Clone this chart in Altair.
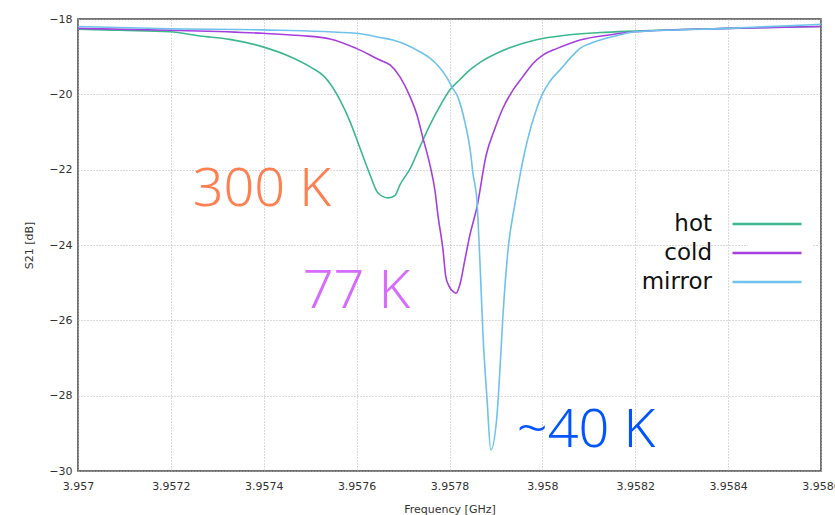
import altair as alt
import pandas as pd

# ---- data ----
hot_freq = [3.957000, 3.957090, 3.957198, 3.957263, 3.957327, 3.957398, 3.957457,
            3.957500, 3.957532, 3.957543, 3.957564, 3.957586, 3.957607, 3.957629,
            3.957646, 3.957668, 3.957683, 3.957693, 3.957715, 3.957736, 3.957758,
            3.957780, 3.957801, 3.957823, 3.957844, 3.957866, 3.957909, 3.957952,
            3.958001, 3.958059, 3.958124, 3.958199, 3.958296, 3.958400, 3.958501,
            3.958600]
hot_db = [-18.27, -18.30, -18.34, -18.45, -18.54, -18.74, -19.00,
          -19.27, -19.55, -19.72, -20.15, -20.73, -21.42, -22.14,
          -22.62, -22.75, -22.68, -22.41, -21.98, -21.40, -20.81,
          -20.30, -19.88, -19.60, -19.35, -19.15, -18.87, -18.67,
          -18.52, -18.42, -18.36, -18.32, -18.28, -18.25, -18.22,
          -18.20]

cold_freq = [3.957000, 3.957198, 3.957398, 3.957478, 3.957543, 3.957599, 3.957650,
             3.957672, 3.957693, 3.957715, 3.957730, 3.957743, 3.957758, 3.957769,
             3.957775, 3.957786, 3.957792, 3.957799, 3.957808, 3.957814, 3.957823,
             3.957833, 3.957844, 3.957859, 3.957879, 3.957898, 3.957915, 3.957937,
             3.957958, 3.957980, 3.958001, 3.958032, 3.958059, 3.958081, 3.958146,
             3.958199, 3.958400, 3.958600]
cold_db = [-18.25, -18.30, -18.38, -18.44, -18.53, -18.78, -19.09,
           -19.22, -19.53, -20.06, -20.55, -21.17, -21.88, -22.58,
           -23.20, -24.13, -24.84, -25.09, -25.24, -25.28, -25.02,
           -24.40, -23.73, -23.00, -21.61, -20.90, -20.37, -19.88,
           -19.53, -19.18, -18.96, -18.78, -18.65, -18.56, -18.42,
           -18.34, -18.25, -18.20]

mirror_freq = [3.957000, 3.957198, 3.957398, 3.957599, 3.957650, 3.957678, 3.957708,
               3.957736, 3.957758, 3.957780, 3.957795, 3.957805, 3.957819, 3.957833,
               3.957844, 3.957851, 3.957859, 3.957866, 3.957872, 3.957881, 3.957889,
               3.957902, 3.957909, 3.957915, 3.957926, 3.957941, 3.957952, 3.957967,
               3.957988, 3.958001, 3.958016, 3.958038, 3.958066, 3.958081, 3.958103,
               3.958167, 3.958199, 3.958400, 3.958600]
mirror_db = [-18.20, -18.26, -18.29, -18.38, -18.49, -18.56, -18.69,
             -18.87, -19.04, -19.31, -19.57, -19.80, -20.10, -20.73,
             -21.43, -22.14, -22.82, -24.58, -26.35, -28.12, -29.44,
             -28.56, -27.23, -25.90, -24.13, -22.90, -22.14, -21.26,
             -20.37, -19.97, -19.66, -19.35, -18.96, -18.78, -18.65,
             -18.42, -18.34, -18.25, -18.14]

series_names = ["hot", "cold", "mirror"]
series_colors = ["#3db88c", "#a53fe0", "#6fc2ec"]

x_ticks = [3.957, 3.9572, 3.9574, 3.9576, 3.9578, 3.958, 3.9582, 3.9584, 3.9586]
y_ticks = [-30, -28, -26, -24, -22, -20, -18]

note_text = ["300 K", "77 K", "~40 K"]
note_freq = [3.957247, 3.957484, 3.957945]
note_db = [-22.97, -25.66, -29.36]
note_color = ["#ff7f50", "#d56cff", "#0055ff"]

# ---- tables ----
rows = []
for name, fr, db in zip(series_names, [hot_freq, cold_freq, mirror_freq],
                        [hot_db, cold_db, mirror_db]):
    for f, d in zip(fr, db):
        rows.append({"series": name, "freq": f, "db": d})
df = pd.DataFrame(rows)
notes = pd.DataFrame({"text": note_text, "freq": note_freq, "db": note_db,
                      "color": note_color})

xscale = alt.Scale(domain=[3.957, 3.9586], nice=False, zero=False)
yscale = alt.Scale(domain=[-30, -18], nice=False, zero=False)

lines = alt.Chart(df).mark_line(strokeWidth=1.6, clip=True,
                                interpolate="monotone").encode(
    x=alt.X("freq:Q", scale=xscale,
            axis=alt.Axis(values=x_ticks, format=".4~f", title="Frequency [GHz]",
                          grid=True, gridDash=[1, 2], gridColor="#b5b5b5",
                          ticks=False, domain=False, labelFontSize=11,
                          labelColor="#333", labelPadding=9, labelFlush=False,
                          titleFontSize=11,
                          titleFontWeight="normal", titleColor="#333",
                          titlePadding=12, labelFont="DejaVu Sans",
                          titleFont="DejaVu Sans")),
    y=alt.Y("db:Q", scale=yscale,
            axis=alt.Axis(values=y_ticks, title="S21 [dB]", grid=True,
                          gridDash=[1, 2], gridColor="#b5b5b5", ticks=False,
                          domain=False, labelFontSize=11, labelColor="#333",
                          labelPadding=6, titleFontSize=11,
                          titleFontWeight="normal", titleColor="#333",
                          titlePadding=14, labelFont="DejaVu Sans",
                          titleFont="DejaVu Sans")),
    color=alt.Color("series:N",
                    scale=alt.Scale(domain=series_names, range=series_colors),
                    sort=series_names,
                    legend=alt.Legend(title=None, orient="none", legendX=670,
                                      legendY=186,
                                      symbolType="M-3,0H3",
                                      symbolSize=529, symbolStrokeWidth=2.5,
                                      labelFontSize=23, labelColor="#111",
                                      labelFont="DejaVu Sans",
                                      labelAlign="right",
                                      labelOffset={"expr": "-68"},
                                      rowPadding=4, fillColor="white",
                                      padding=6)),
)

texts = alt.Chart(notes).mark_text(align="left", baseline="alphabetic",
                                   fontSize=54, font="Noto Sans",
                                   fontWeight=300).encode(
    x=alt.X("freq:Q", scale=xscale),
    y=alt.Y("db:Q", scale=yscale),
    text="text:N",
    color=alt.Color("color:N", scale=None),
)

chart = alt.layer(lines, texts).properties(
    width=743, height=452,
    autosize=alt.AutoSizeParams(type="none"),
    padding={"left": 78, "top": 19, "right": 14, "bottom": 44},
    background="white",
).configure_view(stroke="#444", strokeWidth=1.5)

chart.save("out.html", embed_options={"renderer": "svg", "actions": False})
